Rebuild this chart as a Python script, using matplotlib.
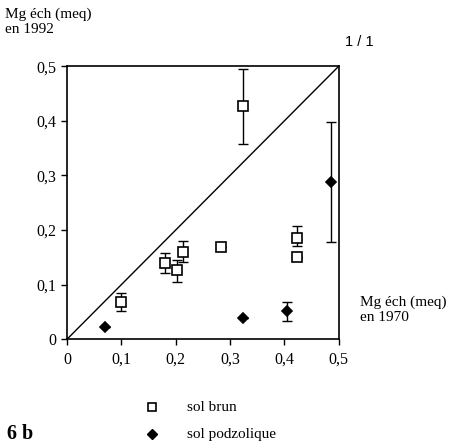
import matplotlib.pyplot as plt
from matplotlib.lines import Line2D

# sol brun (open squares)
brun_x = [0.324, 0.100, 0.181, 0.202, 0.213, 0.283, 0.424, 0.424]
brun_y = [0.427, 0.068, 0.139, 0.127, 0.160, 0.169, 0.185, 0.150]
brun_lo = [0.358, 0.052, 0.121, 0.105, 0.142, 0.169, 0.170, 0.150]
brun_hi = [0.495, 0.084, 0.157, 0.145, 0.179, 0.169, 0.207, 0.150]

# sol podzolique (filled diamonds)
podz_x = [0.070, 0.323, 0.404, 0.485]
podz_y = [0.023, 0.038, 0.052, 0.288]
podz_lo = [0.023, 0.038, 0.034, 0.178]
podz_hi = [0.023, 0.038, 0.069, 0.398]

ticks = [0, 0.1, 0.2, 0.3, 0.4, 0.5]
tick_labels = ['0', '0,1', '0,2', '0,3', '0,4', '0,5']

plt.rcParams['font.family'] = ['Liberation Serif', 'DejaVu Serif']

fig = plt.figure(figsize=(4.56, 4.44), dpi=100)
ax = fig.add_axes([0.147, 0.236, 0.596, 0.615])

ax.plot([0, 0.5], [0, 0.5], color='black', lw=1)

def draw_series(x, y, lo, hi, marker, face, size):
    yerr = [[yy - l for yy, l in zip(y, lo)], [h - yy for yy, h in zip(y, hi)]]
    ax.errorbar(x, y, yerr=yerr, fmt='none', ecolor='black', elinewidth=1,
                capsize=3.5, capthick=1, zorder=2)
    ax.plot(x, y, linestyle='none', marker=marker, markersize=size,
            markerfacecolor=face, markeredgecolor='black', markeredgewidth=1.2,
            zorder=3)

draw_series(brun_x, brun_y, brun_lo, brun_hi, 's', 'white', 7)
draw_series(podz_x, podz_y, podz_lo, podz_hi, 'D', 'black', 5.5)

ax.set_xlim(0, 0.5)
ax.set_ylim(0, 0.5)
ax.set_xticks(ticks)
ax.set_xticklabels(tick_labels)
ax.set_yticks(ticks)
ax.set_yticklabels(tick_labels)
ax.tick_params(direction='out', length=4, width=1, labelsize=11.5, colors='black')
ax.tick_params(axis='x', pad=5)
for s in ax.spines.values():
    s.set_linewidth(1.2)

fig.text(0.011, 0.982, 'Mg éch (meq)\nen 1992', fontsize=11, va='top',
         ha='left', linespacing=1.2)
fig.text(0.79, 0.335, 'Mg éch (meq)\nen 1970', fontsize=11, va='top',
         ha='left', linespacing=1.2)
fig.text(0.757, 0.905, '1 / 1', fontsize=10.5, family='Liberation Sans',
         ha='left', va='center')

# legend
fig.add_artist(Line2D([0.333], [0.083], marker='s', markersize=6,
                      markerfacecolor='white', markeredgecolor='black',
                      markeredgewidth=1.2, transform=fig.transFigure))
fig.add_artist(Line2D([0.333], [0.022], marker='D', markersize=5,
                      markerfacecolor='black', markeredgecolor='black',
                      transform=fig.transFigure))
fig.text(0.41, 0.083, 'sol brun', fontsize=11, va='center', ha='left')
fig.text(0.41, 0.022, 'sol podzolique', fontsize=11, va='center', ha='left')
fig.text(0.015, 0.022, '6 b', fontsize=14.5, fontweight='bold', va='center',
         ha='left')

fig.savefig('out.png', dpi=100)
